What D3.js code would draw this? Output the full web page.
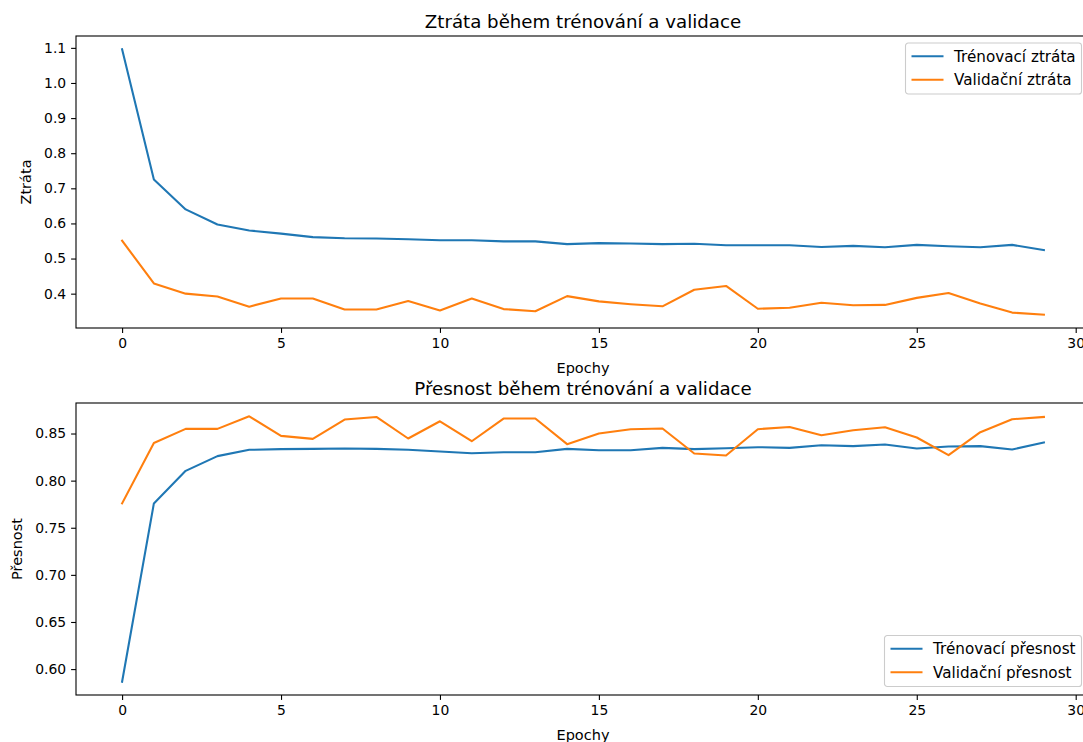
<!DOCTYPE html>
<html>
<head>
<meta charset="utf-8">
<script src="https://cdn.jsdelivr.net/npm/d3@7"></script>
<style>
  body { margin: 0; background: #fff; }
  svg { display: block; font-family: "DejaVu Sans", sans-serif; }
</style>
</head>
<body>
<svg id="chart" width="1083" height="742"></svg>
<script>
// epochs 0..29
const epochs = d3.range(0, 30);

// loss values
const trainLoss = [1.096, 0.725, 0.640, 0.597, 0.580, 0.571, 0.561, 0.558, 0.557, 0.555,
  0.552, 0.552, 0.549, 0.549, 0.541, 0.544, 0.543, 0.541, 0.542, 0.538,
  0.538, 0.538, 0.533, 0.536, 0.532, 0.539, 0.535, 0.532, 0.539, 0.524];
const valLoss = [0.551, 0.429, 0.400, 0.392, 0.363, 0.386, 0.386, 0.355, 0.355, 0.379,
  0.352, 0.386, 0.356, 0.350, 0.393, 0.378, 0.370, 0.364, 0.411, 0.422,
  0.357, 0.360, 0.374, 0.367, 0.368, 0.388, 0.402, 0.372, 0.346, 0.340];

// accuracy values
const trainAcc = [0.5866, 0.7758, 0.8104, 0.8260, 0.8327, 0.8334, 0.8337, 0.8341, 0.8337, 0.8327,
  0.8309, 0.8291, 0.8302, 0.8302, 0.8337, 0.8323, 0.8323, 0.8348, 0.8334, 0.8344,
  0.8355, 0.8348, 0.8376, 0.8366, 0.8383, 0.8341, 0.8362, 0.8366, 0.8330, 0.8405];
const valAcc = [0.7758, 0.8400, 0.8549, 0.8549, 0.8683, 0.8475, 0.8443, 0.8648, 0.8676, 0.8447,
  0.8630, 0.8418, 0.8659, 0.8659, 0.8387, 0.8500, 0.8546, 0.8553, 0.8288, 0.8267,
  0.8546, 0.8570, 0.8482, 0.8535, 0.8567, 0.8458, 0.8270, 0.8514, 0.8652, 0.8676];

const xTicks = [0, 5, 10, 15, 20, 25, 30];
const lossTicks = [0.4, 0.5, 0.6, 0.7, 0.8, 0.9, 1.0, 1.1];
const accTicks = [0.60, 0.65, 0.70, 0.75, 0.80, 0.85];

const blue = '#1f77b4', orange = '#ff7f0e';
const svg = d3.select('#chart');

const left = 76, right = 1090; // right spine falls just outside the picture

function drawPanel(cfg) {
  const g = svg.append('g');
  const all = cfg.series[0].values.concat(cfg.series[1].values);
  let lo = d3.min(all), hi = d3.max(all);
  let pad = (hi - lo) * 0.05;

  const x = d3.scaleLinear().domain([-1.45, 30.45]).range([left, right]);
  const y = d3.scaleLinear().domain([lo - pad, hi + pad]).range([cfg.bottom, cfg.top]);

  // x axis
  g.append('g')
    .attr('transform', 'translate(0,' + cfg.bottom + ')')
    .call(d3.axisBottom(x).tickValues(xTicks).tickFormat(d3.format('d'))
      .tickSize(4.9).tickPadding(4.9).tickSizeOuter(0))
    .call(a => a.select('.domain').remove())
    .call(a => a.selectAll('line').attr('stroke', '#000').attr('stroke-width', 1.1))
    .call(a => a.selectAll('text').attr('font-size', 13.9).attr('fill', '#000')
      .attr('font-family', 'DejaVu Sans'));

  // y axis
  g.append('g')
    .attr('transform', 'translate(' + left + ',0)')
    .call(d3.axisLeft(y).tickValues(cfg.yTicks).tickFormat(d3.format(cfg.fmt))
      .tickSize(4.9).tickPadding(4.9).tickSizeOuter(0))
    .call(a => a.select('.domain').remove())
    .call(a => a.selectAll('line').attr('stroke', '#000').attr('stroke-width', 1.1))
    .call(a => a.selectAll('text').attr('font-size', 13.9).attr('fill', '#000')
      .attr('font-family', 'DejaVu Sans'));

  // lines
  const line = d3.line().x((d, i) => x(epochs[i])).y(d => y(d));
  cfg.series.forEach(s => {
    g.append('path')
      .datum(s.values)
      .attr('fill', 'none')
      .attr('stroke', s.color)
      .attr('stroke-width', 2.08)
      .attr('stroke-linejoin', 'round')
      .attr('stroke-linecap', 'square')
      .attr('d', line);
  });

  // frame
  g.append('rect')
    .attr('x', left).attr('y', cfg.top)
    .attr('width', right - left).attr('height', cfg.bottom - cfg.top)
    .attr('fill', 'none').attr('stroke', '#000').attr('stroke-width', 1.1);

  // title
  g.append('text')
    .attr('x', (left + right) / 2).attr('y', cfg.top - 8.5)
    .attr('text-anchor', 'middle')
    .attr('font-size', 18.2)
    .text(cfg.title);

  // x label
  g.append('text')
    .attr('x', (left + right) / 2).attr('y', cfg.bottom + 45)
    .attr('text-anchor', 'middle')
    .attr('font-size', 14.5)
    .text('Epochy');

  // y label
  g.append('text')
    .attr('transform', 'translate(' + cfg.ylabX + ',' + (cfg.top + cfg.bottom) / 2 + ') rotate(-90)')
    .attr('text-anchor', 'middle')
    .attr('font-size', 14.5)
    .text(cfg.ylabel);

  // legend
  const lg = g.append('g').attr('transform', 'translate(' + cfg.legend.x + ',' + cfg.legend.y + ')');
  lg.append('rect')
    .attr('x', 0).attr('y', 0)
    .attr('width', cfg.legend.w).attr('height', 51)
    .attr('rx', 2.8)
    .attr('fill', 'rgba(255,255,255,0.8)')
    .attr('stroke', '#cccccc').attr('stroke-width', 1.1);
  cfg.series.forEach((s, i) => {
    const yy = 13.3 + i * 23.4;
    lg.append('line')
      .attr('x1', 6).attr('x2', 38)
      .attr('y1', yy).attr('y2', yy)
      .attr('stroke', s.color).attr('stroke-width', 2.08);
    lg.append('text')
      .attr('x', 48.5).attr('y', yy + 5.4)
      .attr('font-size', 15.2)
      .text(s.name);
  });
}

drawPanel({
  top: 36, bottom: 328,
  title: 'Ztráta během trénování a validace',
  ylabel: 'Ztráta', ylabX: 31,
  yTicks: lossTicks, fmt: '.1f',
  series: [
    {name: 'Trénovací ztráta', values: trainLoss, color: blue},
    {name: 'Validační ztráta', values: valLoss, color: orange}
  ],
  legend: {x: 905.5, y: 43, w: 176}
});

drawPanel({
  top: 403, bottom: 695,
  title: 'Přesnost během trénování a validace',
  ylabel: 'Přesnost', ylabX: 22,
  yTicks: accTicks, fmt: '.2f',
  series: [
    {name: 'Trénovací přesnost', values: trainAcc, color: blue},
    {name: 'Validační přesnost', values: valAcc, color: orange}
  ],
  legend: {x: 884.5, y: 635.5, w: 197}
});
</script>
</body>
</html>
